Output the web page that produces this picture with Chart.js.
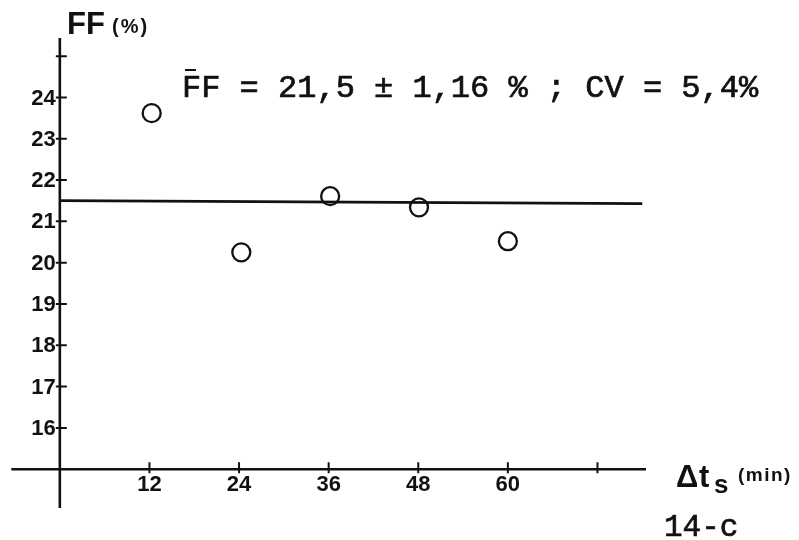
<!DOCTYPE html>
<html>
<head>
  <title>FF vs interval</title>
  <style>
    body { margin: 0; background: #fff; }
    canvas { display: block; }
  </style>
</head>
<body>
  <canvas id="ffChart" width="799" height="540"></canvas>
  <script src="https://cdn.jsdelivr.net/npm/chart.js"></script>
  <script>
    const intervals = [12.3, 24.3, 36.2, 48.1, 60];
    const ffValues = [23.62, 20.25, 21.61, 21.34, 20.52];
    const meanLineX = [0, 78];
    const meanLineY = [21.5, 21.43];
    const yTicks = [16, 17, 18, 19, 20, 21, 22, 23, 24, 25];
    const yTickLabels = ['16', '17', '18', '19', '20', '21', '22', '23', '24', ''];
    const xTicks = [12, 24, 36, 48, 60, 72];
    const xTickLabels = ['12', '24', '36', '48', '60', ''];

    const ink = '#111';

    function typed(ctx, text, x, y) {
      // typewriter look: fill plus a thin stroke
      ctx.fillText(text, x, y);
      ctx.lineWidth = 0.7;
      ctx.strokeText(text, x, y);
    }

    const handAxes = {
      id: 'handAxes',
      beforeDatasetsDraw(chart) {
        const ctx = chart.ctx;
        const area = chart.chartArea;
        const xs = chart.scales.x;
        const ys = chart.scales.y;
        const x0 = xs.getPixelForValue(0);
        const y0 = ys.getPixelForValue(15);

        ctx.save();
        ctx.strokeStyle = ink;
        ctx.lineWidth = 2.6;
        ctx.beginPath();
        ctx.moveTo(x0, area.top);
        ctx.lineTo(x0, area.bottom);
        ctx.moveTo(area.left, y0);
        ctx.lineTo(area.right, y0);
        ctx.stroke();

        // small crossing tick marks
        ctx.lineWidth = 2;
        ctx.beginPath();
        yTicks.forEach(v => {
          const py = ys.getPixelForValue(v);
          ctx.moveTo(x0 - 4, py);
          ctx.lineTo(x0 + 7, py);
        });
        xTicks.forEach(v => {
          const px = xs.getPixelForValue(v);
          ctx.moveTo(px, y0 - 7);
          ctx.lineTo(px, y0 + 4);
        });
        ctx.stroke();

        ctx.fillStyle = ink;
        ctx.font = 'bold 22px "Liberation Sans"';
        ctx.textAlign = 'right';
        ctx.textBaseline = 'middle';
        yTicks.forEach((v, i) => ctx.fillText(yTickLabels[i], x0 - 4, ys.getPixelForValue(v) + 1));
        ctx.textAlign = 'center';
        ctx.textBaseline = 'top';
        xTicks.forEach((v, i) => ctx.fillText(xTickLabels[i], xs.getPixelForValue(v), y0 + 5));

        // axis titles
        ctx.textAlign = 'left';
        ctx.textBaseline = 'alphabetic';
        ctx.font = 'bold 31px "Liberation Sans"';
        ctx.fillText('FF', 67, 34);
        ctx.font = 'bold 20px "Liberation Sans"';
        ctx.letterSpacing = '2px';
        ctx.fillText('(%)', 112, 33);
        ctx.letterSpacing = '0px';

        ctx.font = 'bold 31px "Liberation Sans"';
        ctx.fillText('\u0394', 676, 487);
        ctx.fillText('t', 699, 487);
        ctx.font = 'bold 26px "Liberation Sans"';
        ctx.fillText('s', 714, 493);
        ctx.font = 'bold 19px "Liberation Sans"';
        ctx.letterSpacing = '1.5px';
        ctx.fillText('(min)', 738, 481);
        ctx.letterSpacing = '0px';

        // typed annotation
        ctx.font = '32px "Liberation Mono"';
        typed(ctx, 'FF = 21,5 \u00b1 1,16 % ; CV = 5,4%', 182, 97);
        ctx.lineWidth = 2;
        ctx.beginPath();
        ctx.moveTo(185, 70);
        ctx.lineTo(196, 70);
        ctx.stroke();

        ctx.font = '31px "Liberation Mono"';
        typed(ctx, '14-c', 664, 536);
        ctx.restore();
      }
    };

    new Chart(document.getElementById('ffChart'), {
      type: 'scatter',
      data: {
        datasets: [
          {
            label: 'FF',
            data: intervals.map((x, i) => ({ x: x, y: ffValues[i] })),
            pointStyle: 'circle',
            pointRadius: 9,
            pointBorderWidth: 2.3,
            pointBackgroundColor: 'rgba(255,255,255,0)',
            pointBorderColor: ink
          },
          {
            label: 'mean',
            data: meanLineX.map((x, i) => ({ x: x, y: meanLineY[i] })),
            showLine: true,
            borderColor: ink,
            borderWidth: 2.8,
            pointRadius: 0
          }
        ]
      },
      options: {
        responsive: false,
        animation: false,
        layout: { padding: { left: 8, right: 153, top: 38, bottom: 32 } },
        plugins: { legend: { display: false }, tooltip: { enabled: false } },
        scales: {
          x: { type: 'linear', min: -6.5, max: 78.5, display: false },
          y: { type: 'linear', min: 14.06, max: 25.44, display: false }
        }
      },
      plugins: [handAxes]
    });
  </script>
</body>
</html>
